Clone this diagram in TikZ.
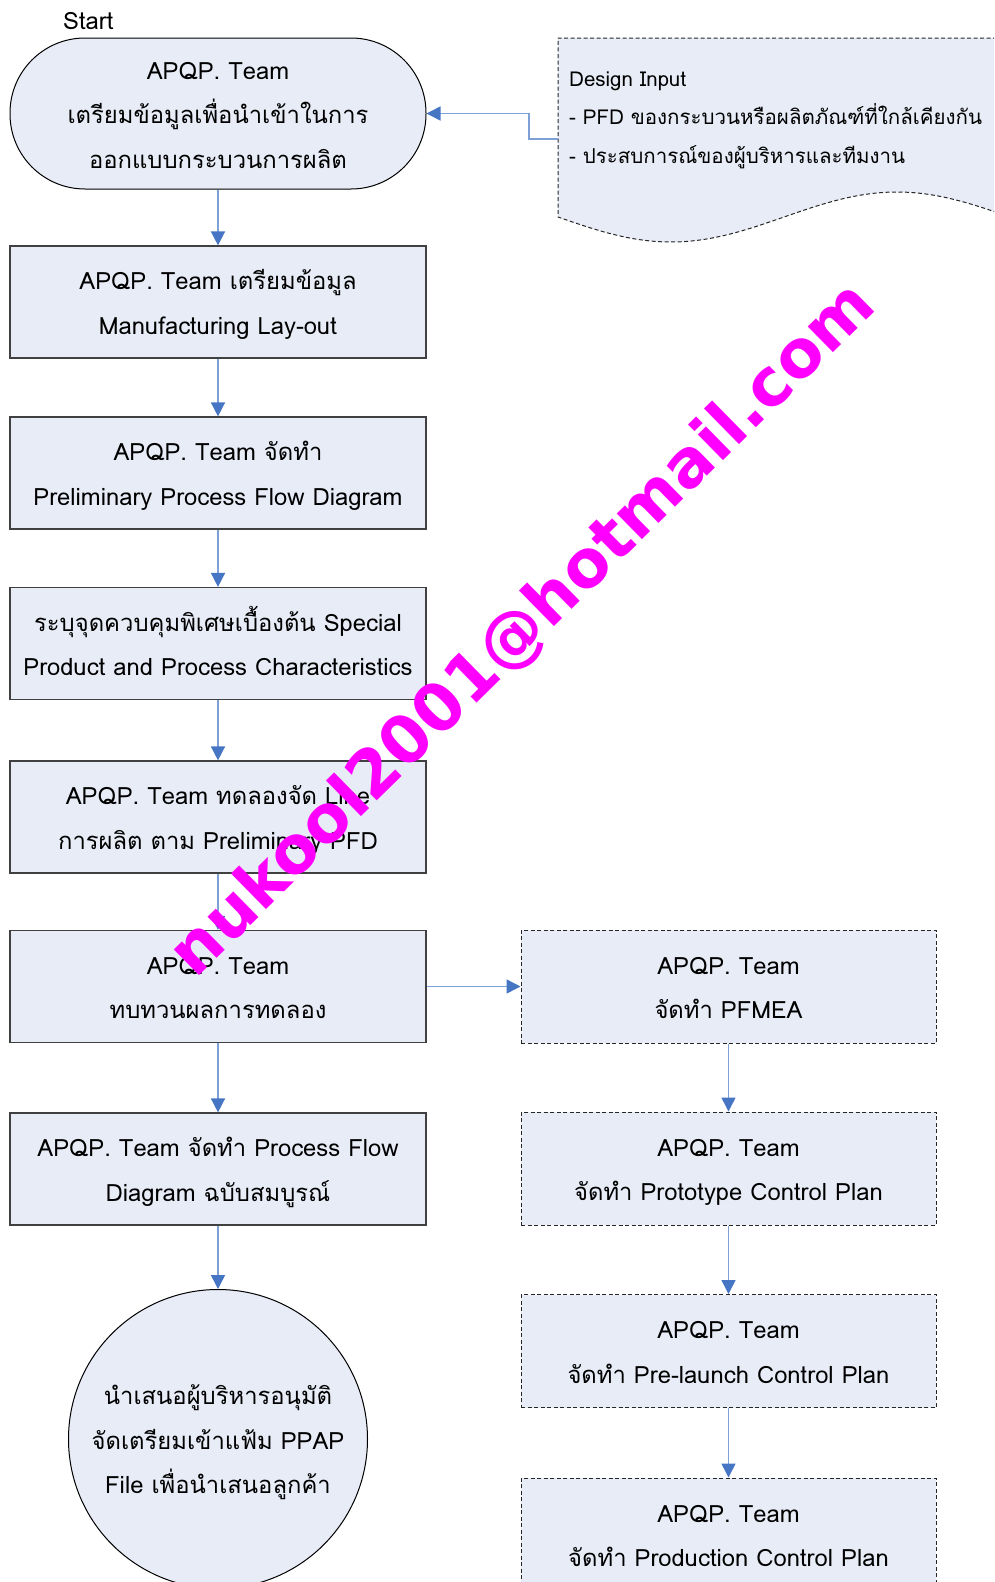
\documentclass[tikz,border=0pt]{standalone}
\usepackage{fontspec}
\newfontfamily\thfont[Script=Thai]{Loma}
\newfontfamily\wmfont{DejaVu Sans}
\usetikzlibrary{arrows.meta}
\definecolor{boxfill}{RGB}{231,236,247}
\definecolor{linecol}{RGB}{125,160,214}
\definecolor{tipcol}{RGB}{70,117,196}
\definecolor{wmcol}{RGB}{255,0,255}
\newcommand\topstr{\rule{0pt}{28pt}}
\newcommand\botstr{\rule[-8pt]{0pt}{8pt}}
\tikzset{
  basebox/.style={font=\thfont\fontsize{23.8}{44.5}\selectfont, align=center, fill=boxfill, inner sep=0pt},
  procbox/.style={basebox, draw=black!75, line width=1.2pt, minimum width=416pt, minimum height=112pt},
  dashbox/.style={basebox, draw=black!85, line width=1pt, dash pattern=on 4pt off 2.5pt, minimum width=415pt, minimum height=113pt},
  conn/.style={draw=linecol, line width=1.5pt, -{Triangle[length=14pt,width=14pt,color=tipcol]}},
}
\begin{document}
\begin{tikzpicture}[x=1pt,y=-1pt]
\useasboundingbox (0,0) rectangle (994,1582);
\clip (0,0) rectangle (994,1582);
\fill[white] (0,0) rectangle (994,1582);
% design input document shape
\path[fill=boxfill] (1010,38) -- (558,38) -- (558,217) -- plot[domain=558:1010,samples=90] (\x,{217+25*cos(0.79646*(\x-671))}) -- cycle;
\draw[black!85, line width=1pt, dash pattern=on 4pt off 2.5pt] (1010,38) -- (558,38) -- (558,217) -- plot[domain=558:1010,samples=90] (\x,{217+25*cos(0.79646*(\x-671))});
\node[anchor=base west, align=left, inner sep=0pt, font=\thfont\fontsize{20.5}{38.5}\selectfont] (ditext) at (569,163) {Design Input\\- PFD ของกระบวนหรือผลิตภัณฑ์ที่ใกล้เคียงกัน\\- ประสบการณ์ของผู้บริหารและทีมงาน};
\coordinate (dil) at (558,139);
% start
\node[anchor=base west, inner sep=0pt, font=\thfont\fontsize{23.8}{26}\selectfont] (startlbl) at (63,29) {Start};
\node[basebox, draw=black, line width=1pt, rounded corners=75pt, minimum width=416pt, minimum height=151pt] (term) at (218,113.5) {\topstr APQP. Team\\เตรียมข้อมูลเพื่อนำเข้าในการ\\ออกแบบกระบวนการผลิต\botstr};
\node[procbox] (b1) at (218,302) {\topstr APQP. Team เตรียมข้อมูล\\Manufacturing Lay-out\botstr};
\node[procbox] (b2) at (218,473) {\topstr APQP. Team จัดทำ\\Preliminary Process Flow Diagram\botstr};
\node[procbox] (b3) at (218,643.5) {\topstr ระบุจุดควบคุมพิเศษเบื้องต้น Special\\Product and Process Characteristics\botstr};
\node[procbox] (b4) at (218,817) {\topstr APQP. Team ทดลองจัด Line\\การผลิต ตาม Preliminary PFD\botstr};
\node[procbox] (b5) at (218,986.5) {\topstr APQP. Team\\ทบทวนผลการทดลอง\botstr};
\node[procbox] (b6) at (218,1169) {\topstr APQP. Team จัดทำ Process Flow\\Diagram ฉบับสมบูรณ์\botstr};
\node[basebox, draw=black, line width=1pt, circle, minimum size=299pt] (fin) at (218,1439) {\topstr นำเสนอผู้บริหารอนุมัติ\\จัดเตรียมเข้าแฟ้ม PPAP\\File เพื่อนำเสนอลูกค้า\botstr};
\node[dashbox] (r1) at (728.5,986.5) {\topstr APQP. Team\\จัดทำ PFMEA\botstr};
\node[dashbox] (r2) at (728.5,1168.5) {\topstr APQP. Team\\จัดทำ Prototype Control Plan\botstr};
\node[dashbox] (r3) at (728.5,1351) {\topstr APQP. Team\\จัดทำ Pre-launch Control Plan\botstr};
\node[dashbox] (r4) at (728.5,1534.5) {\topstr APQP. Team\\จัดทำ Production Control Plan\botstr};
% connectors
\draw[conn] (dil) -- ++(-29,0) |- (term.east);
\draw[conn] (term) -- (b1);
\draw[conn] (b1) -- (b2);
\draw[conn] (b2) -- (b3);
\draw[conn] (b3) -- (b4);
\draw[conn] (b4) -- (b5);
\draw[conn] (b5) -- (b6);
\draw[conn] (b6) -- (fin);
\draw[conn] (b5) -- (r1);
\draw[conn] (r1) -- (r2);
\draw[conn] (r2) -- (r3);
\draw[conn] (r3) -- (r4);
% watermark
\node[rotate=44.5, anchor=base west, inner sep=0pt, text=wmcol, font=\wmfont\bfseries\fontsize{65.8}{66}\selectfont] (wm) at (195.7,979.2) {nukool2001@hotmail.com};
\end{tikzpicture}
\end{document}
